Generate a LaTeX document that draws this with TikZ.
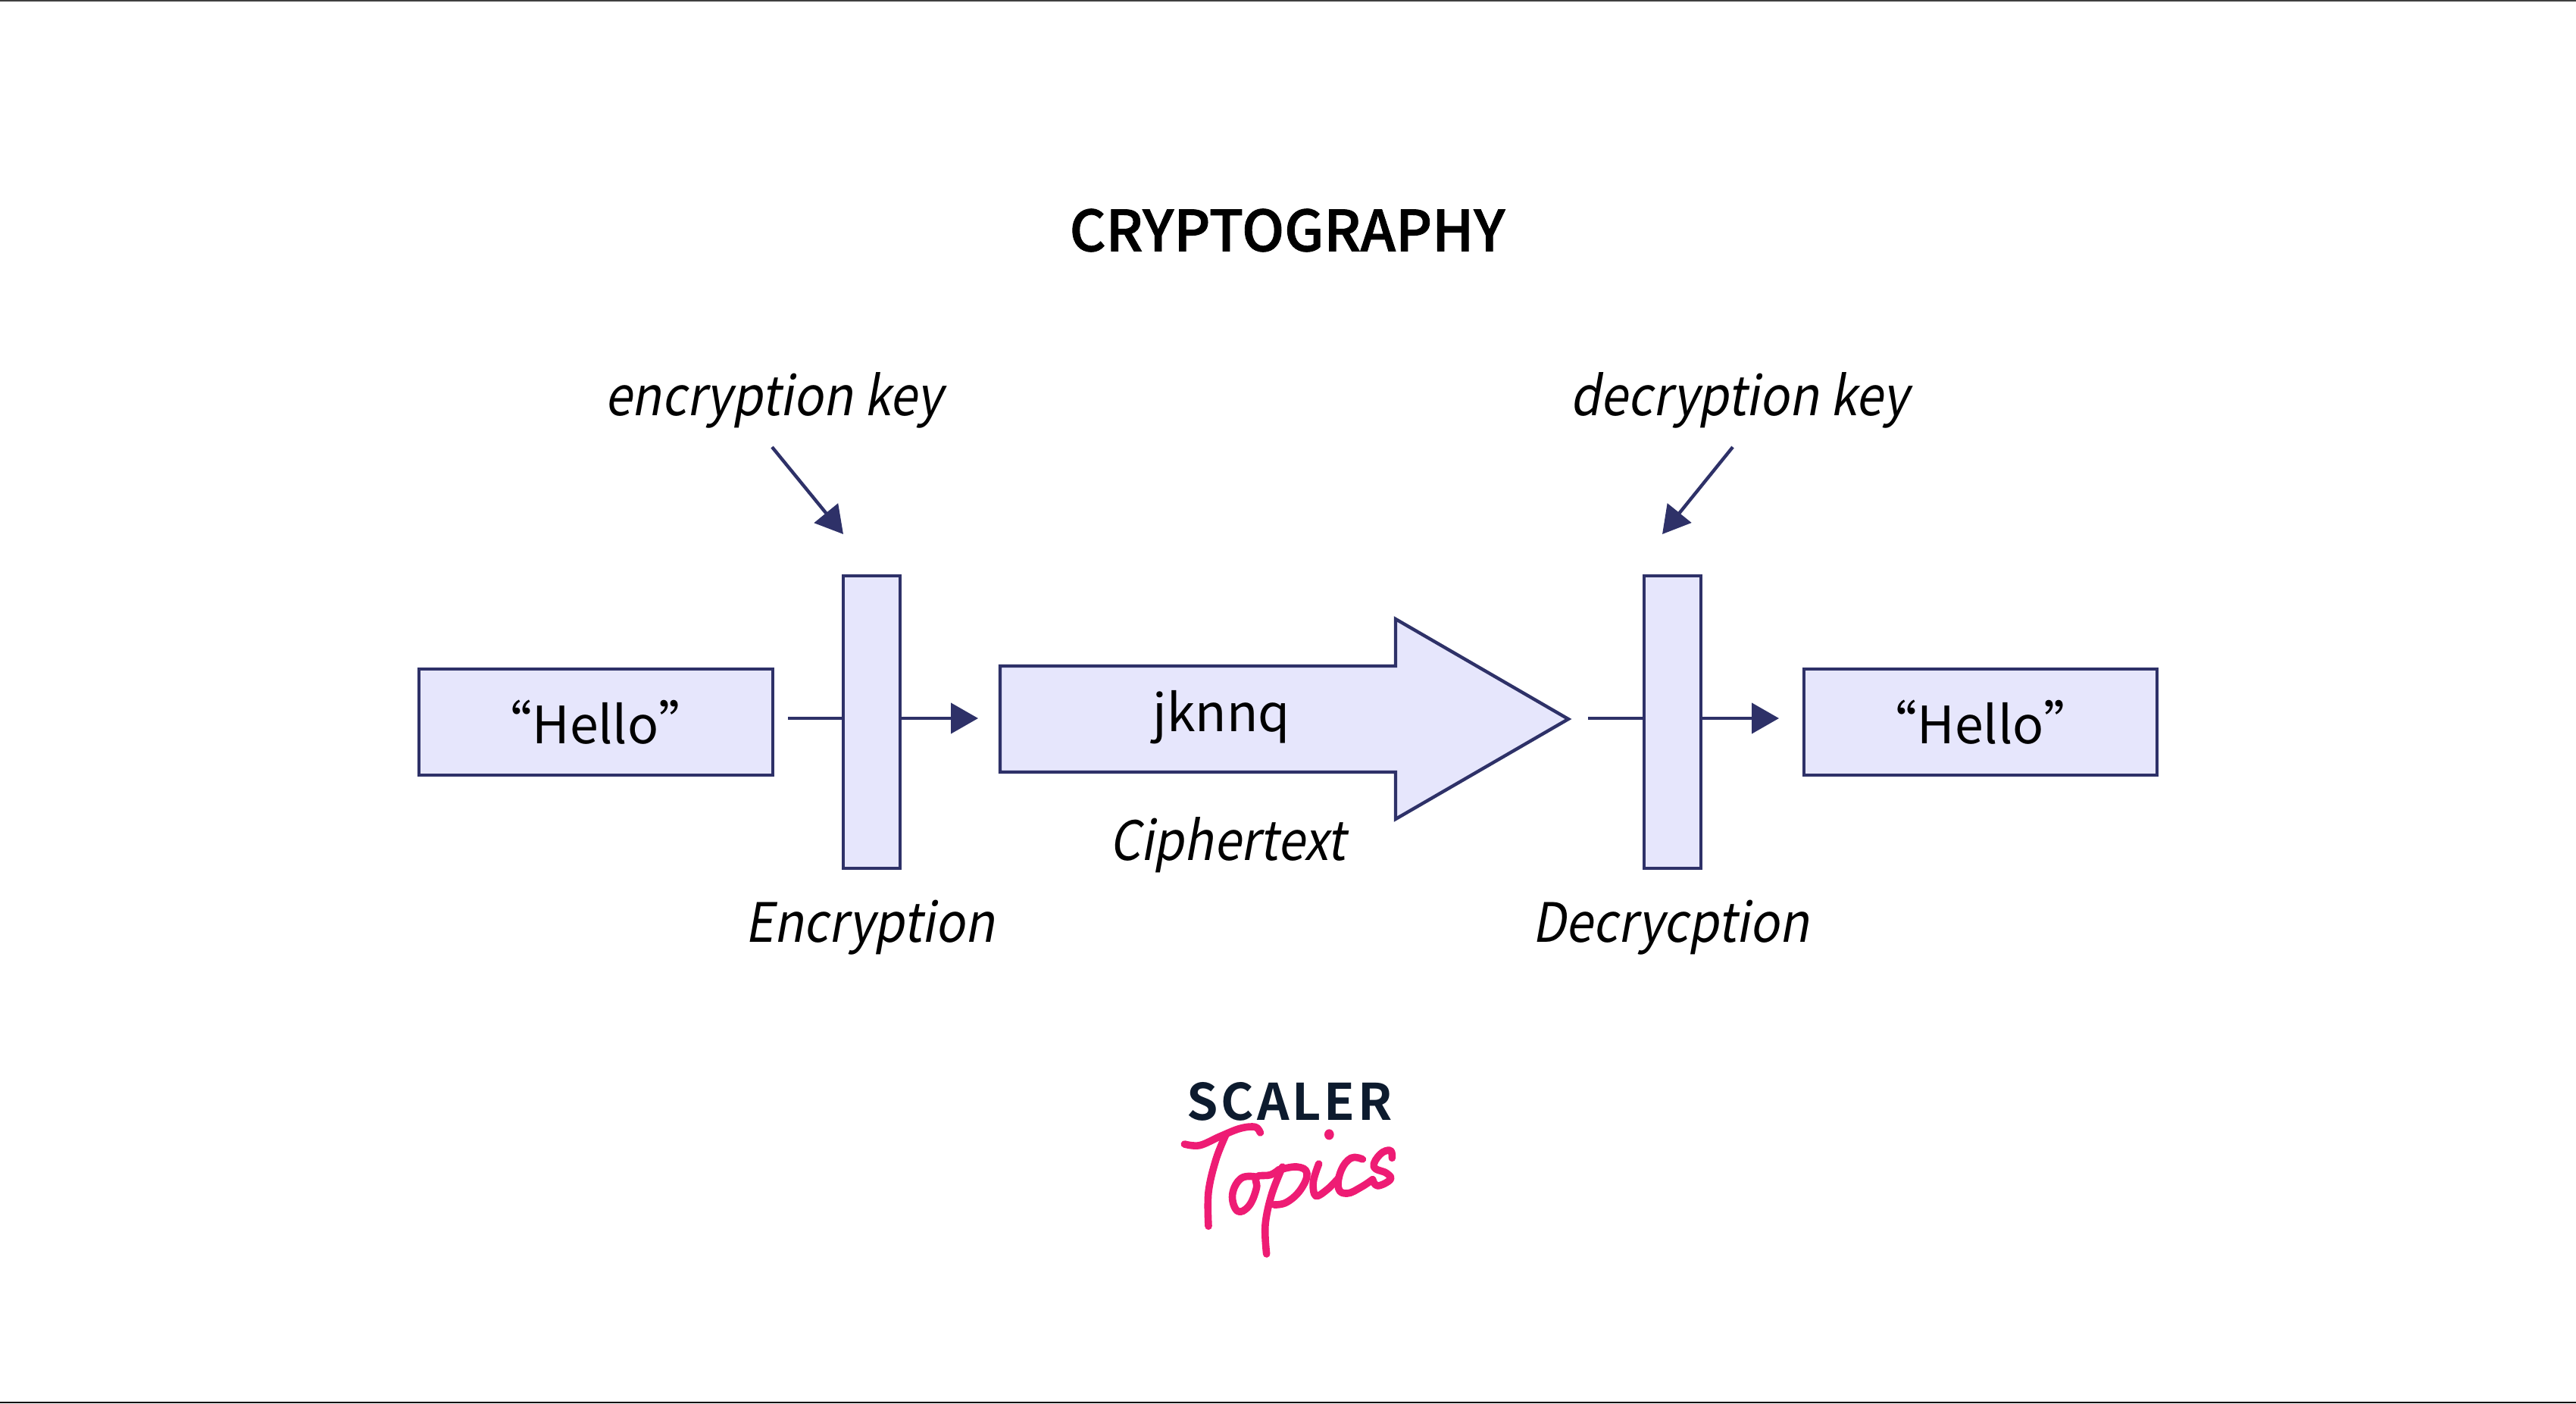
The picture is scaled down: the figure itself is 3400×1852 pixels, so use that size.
\documentclass[tikz,border=0pt]{standalone}
\usepackage{fontspec}
\usetikzlibrary{arrows.meta}
\setmainfont{Noto Sans CJK SC}
\newfontfamily\slantfont[FakeSlant=0.18,FakeStretch=0.9]{Noto Sans CJK SC}
\newfontfamily\titlefont[FakeBold=1.2]{Noto Sans CJK SC Medium}
\newfontfamily\logofont[LetterSpace=6]{Noto Sans CJK SC}[BoldFont={Noto Sans CJK SC Bold}]
\definecolor{boxfill}{HTML}{E6E6FC}
\definecolor{boxline}{HTML}{2E3168}
\definecolor{logonavy}{HTML}{0D1B2E}
\definecolor{logopink}{HTML}{EE1C74}
\tikzset{
  x=0.25pt,y=-0.25pt,
  box/.style={draw=boxline,fill=boxfill,line width=1.1pt,inner sep=0pt,outer sep=0pt,anchor=north west},
  plain/.style={font=\fontsize{17}{22}\selectfont,text=black,inner sep=0pt},
  slant/.style={font=\slantfont\fontsize{17.9}{22}\selectfont,text=black,inner sep=0pt},
  conn/.style={draw=boxline,line width=1.1pt},
  arrowc/.style={conn,-{Triangle[length=9pt,width=10pt]}},
  topics/.style={draw=logopink,line width=2.4pt,line cap=round,line join=round},
}
\begin{document}
\begin{tikzpicture}
\useasboundingbox (0,0) rectangle (3400,1852);
\fill[white] (0,0) rectangle (3400,1852);
\fill[black!75] (0,0) rectangle (3400,2);
\fill[black] (0,1850) rectangle (3400,1852);

\node[font=\titlefont\fontsize{18.6}{22}\selectfont,inner sep=0pt] (title) at (1699,304) {CRYPTOGRAPHY};

\node[box,minimum width=467pt*0.25,minimum height=140pt*0.25] (plainA) at (553,883) {};
\node[plain] (helloA) at (786,953) {“Hello”};
\node[box,minimum width=75pt*0.25,minimum height=386pt*0.25] (enc) at (1113,760) {};
\node[box,minimum width=75pt*0.25,minimum height=386pt*0.25] (dec) at (2170,760) {};
\node[box,minimum width=466pt*0.25,minimum height=140pt*0.25] (plainB) at (2381,883) {};
\node[plain] (helloB) at (2614,953) {“Hello”};

\draw[conn,fill=boxfill,line join=miter] (1320,879) -- (1842,879) -- (1842,817) -- (2070,949) -- (1842,1081) -- (1842,1019) -- (1320,1019) -- cycle;
\node[plain] (cipher) at (1612,947) {jknnq};

\node[slant] (keyE) at (1021,528) {encryption key};
\node[slant] (keyD) at (2296,528) {decryption key};
\node[slant] (labE) at (1148,1224) {Encryption};
\node[slant] (labD) at (2205,1224) {Decrycption};
\node[slant] (labC) at (1620,1115) {Ciphertext};

\coordinate (startE) at (1019,590);
\coordinate (tipE) at (1113,705);
\coordinate (startD) at (2287,590);
\coordinate (tipD) at (2194,705);
\coordinate (stubA) at (1040,948);
\coordinate (outA) at (1291,948);
\coordinate (stubB) at (2096,948);
\coordinate (outB) at (2348,948);
\draw[arrowc] (startE) -- (tipE);
\draw[arrowc] (startD) -- (tipD);
\draw[conn] (stubA) -- (stubA -| enc.west);
\draw[arrowc] (outA -| enc.east) -- (outA);
\draw[conn] (stubB) -- (stubB -| dec.west);
\draw[arrowc] (outB -| dec.east) -- (outB);

\node[font=\logofont\bfseries\fontsize{16.6}{20}\selectfont,text=logonavy,inner sep=0pt] (scaler) at (1702,1454) {SCALER};

\begin{scope}[shift={(1450,1380)},x=0.0833333pt,y=-0.0833333pt]
\draw[topics] plot[smooth,tension=0.6] coordinates {(340,390) (400,395) (480,360) (560,328) (620,322) (640,345)};
\draw[topics] plot[smooth,tension=0.6] coordinates {(505,350) (465,450) (435,580) (435,715)};
\draw[topics] plot[smooth,tension=0.7] coordinates {(625,520) (565,525) (530,590) (550,655) (595,635) (625,565) (625,520) (680,512) (715,490)};
\draw[topics] plot[smooth,tension=0.6] coordinates {(728,480) (685,590) (660,710) (665,825)};
\draw[topics] plot[smooth,tension=0.7] coordinates {(715,492) (785,480) (825,505) (800,570) (745,620) (695,630)};
\draw[topics] plot[smooth,tension=0.6] coordinates {(872,468) (850,540) (860,595) (905,570) (950,525)};
\draw[topics] plot[smooth,tension=0.7] coordinates {(1045,450) (1000,445) (960,495) (950,565) (985,585) (1040,560) (1085,530)};
\draw[topics] plot[smooth,tension=0.7] coordinates {(1162,445) (1155,415) (1115,430) (1090,480) (1140,505) (1155,530) (1105,555) (1085,530)};
\fill[logopink] (913,352) ellipse (19 and 21);
\end{scope}
\end{tikzpicture}
\end{document}
